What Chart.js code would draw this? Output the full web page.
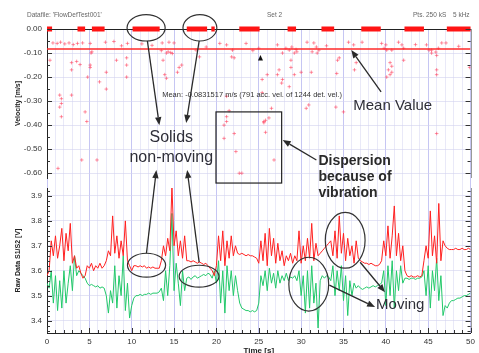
<!DOCTYPE html>
<html><head><meta charset="utf-8">
<script src="https://cdn.jsdelivr.net/npm/chart.js@4.4.1/dist/chart.umd.min.js"></script>
<style>html,body{margin:0;padding:0;background:#fff}#wrap{width:479px;height:353px;position:relative;overflow:hidden}</style>
</head><body><div id="wrap"><canvas id="c" width="479" height="353"></canvas></div>
<script>
// ---------- data ----------
const timeS = [0,0.25,0.5,0.75,1,1.25,1.5,1.75,2,2.25,2.5,2.75,3,3.25,3.5,3.75,4,4.25,4.5,4.75,
5,5.25,5.5,5.75,6,6.25,6.5,6.75,7,7.25,7.5,7.75,8,8.25,8.5,8.75,9,9.25,9.5,9.75,
10,10.25,10.5,10.75,11,11.25,11.5,11.75,12,12.25,12.5,12.75,13,13.25,13.5,13.75,14,14.25,14.5,14.75,
15,15.25,15.5,15.75,16,16.25,16.5,16.75,17,17.25,17.5,17.75,18,18.25,18.5,18.75,19,19.25,19.5,19.75,
20,20.25,20.5,20.75,21,21.25,21.5,21.75,22,22.25,22.5,22.75,23,23.25,23.5,23.75,24,24.25,24.5,24.75,
25,25.25,25.5,25.75,26,26.25,26.5,26.75,27,27.25,27.5,27.75,28,28.25,28.5,28.75,29,29.25,29.5,29.75,
30,30.25,30.5,30.75,31,31.25,31.5,31.75,32,32.25,32.5,32.75,33,33.25,33.5,33.75,34,34.25,34.5,34.75,
35,35.25,35.5,35.75,36,36.25,36.5,36.75,37,37.25,37.5,37.75,38,38.25,38.5,38.75,39,39.25,39.5,39.75,
40,40.25,40.5,40.75,41,41.25,41.5,41.75,42,42.25,42.5,42.75,43,43.25,43.5,43.75,44,44.25,44.5,44.75,
45,45.25,45.5,45.75,46,46.25,46.5,46.75,47,47.25,47.5,47.75,48,48.25,48.5,48.75,49,49.25,49.5,49.75,50];

const rawS1 = [3.58,3.60,3.72,3.66,3.74,3.65,3.70,3.77,3.64,3.75,3.68,3.79,3.63,3.66,3.61,3.62,3.59,3.57,3.58,3.62,
3.61,3.63,3.60,3.62,3.61,3.63,3.61,3.62,3.64,3.68,3.66,3.82,3.67,3.74,3.65,3.72,3.66,3.80,3.64,3.62,
3.60,3.62,3.62,3.615,3.62,3.615,3.62,3.61,3.615,3.61,3.615,3.61,3.61,3.61,3.64,3.70,3.66,3.73,3.68,3.94,
3.70,3.76,3.66,3.72,3.65,3.74,3.64,3.64,3.635,3.64,3.635,3.63,3.635,3.63,3.625,3.63,3.62,3.61,3.60,3.58,
3.62,3.74,3.64,3.76,3.62,3.72,3.65,3.74,3.66,3.70,3.67,3.665,3.67,3.665,3.66,3.665,3.66,3.66,3.655,3.65,
3.63,3.72,3.64,3.75,3.62,3.77,3.66,3.73,3.63,3.71,3.64,3.68,3.62,3.66,3.64,3.67,3.63,3.66,3.64,3.76,
3.63,3.70,3.64,3.73,3.65,3.79,3.64,3.71,3.66,3.67,3.68,3.69,3.70,3.71,3.72,3.66,3.76,3.65,3.82,3.67,
3.75,3.64,3.73,3.66,3.70,3.63,3.72,3.65,3.64,3.635,3.63,3.63,3.625,3.63,3.625,3.62,3.62,3.625,3.64,3.72,
3.66,3.78,3.65,3.74,3.86,3.66,3.75,3.64,3.70,3.60,3.58,3.575,3.58,3.575,3.575,3.58,3.575,3.58,3.64,3.70,
3.65,3.84,3.66,3.74,3.63,3.87,3.64,3.72,3.70,3.69,3.685,3.685,3.685,3.69,3.685,3.685,3.69,3.685,3.685,3.69,3.685];

const rawS2 = [3.55,3.53,3.60,3.47,3.58,3.44,3.56,3.45,3.60,3.47,3.55,3.62,3.52,3.66,3.58,3.60,3.59,3.58,3.57,3.55,
3.54,3.545,3.54,3.535,3.54,3.53,3.535,3.53,3.50,3.43,3.52,3.47,3.62,3.45,3.58,3.50,3.66,3.44,3.55,3.41,
3.46,3.49,3.50,3.50,3.505,3.50,3.505,3.505,3.51,3.505,3.51,3.51,3.51,3.515,3.53,3.48,3.60,3.50,3.62,3.83,
3.52,3.63,3.55,3.46,3.60,3.52,3.57,3.575,3.565,3.575,3.58,3.57,3.575,3.58,3.585,3.58,3.59,3.585,3.57,3.60,
3.55,3.64,3.47,3.60,3.43,3.62,3.52,3.60,3.50,3.58,3.52,3.47,3.45,3.445,3.44,3.44,3.435,3.44,3.435,3.44,
3.47,3.58,3.54,3.60,3.52,3.61,3.55,3.59,3.53,3.60,3.55,3.58,3.56,3.59,3.56,3.575,3.57,3.58,3.56,3.60,
3.50,3.58,3.43,3.60,3.45,3.62,3.47,3.55,3.37,3.56,3.58,3.57,3.58,3.575,3.56,3.62,3.50,3.60,3.52,3.62,
3.48,3.58,3.42,3.56,3.50,3.55,3.53,3.54,3.53,3.525,3.53,3.535,3.53,3.535,3.54,3.535,3.54,3.545,3.55,3.60,
3.46,3.62,3.50,3.64,3.45,3.60,3.52,3.62,3.55,3.57,3.57,3.565,3.57,3.57,3.565,3.57,3.57,3.575,3.60,3.50,
3.62,3.45,3.60,3.52,3.65,3.48,3.58,3.42,3.46,3.45,3.47,3.48,3.48,3.485,3.49,3.49,3.495,3.50,3.50,3.505,3.51];

// accepted velocity samples (time s, velocity m/s)
const velT = [0.7,1.2,1.6,2.1,2.6,3.1,3.6,4.2,5.1,6.9,7.9,9.5,5.3,5.2,0.35,2.9,3.5,3.9,2.9,5.1,5.1,
8.2,9.4,9.4,9.4,7.0,6.2,4.8,7.0,1.5,1.7,1.5,1.7,1.7,2.9,4.5,4.7,1.3,5.9,4.1,
13.6,14.4,15.0,13.5,14.1,14.6,14.8,14.3,13.7,15.9,15.6,15.4,13.9,14.1,17.6,18.0,
20.4,21.2,21.9,21.8,22.1,21.2,21.5,21.2,23.5,25.0,
27.2,27.8,28.2,28.6,28.9,29.4,29.5,29.2,30.7,31.5,31.8,32.1,31.3,31.9,
28.8,28.8,27.4,27.2,30.0,29.2,27.7,27.8,28.6,25.4,26.0,31.2,
34.3,34.5,34.2,35.6,36.2,36.5,36.3,37.2,
39.5,40.0,39.8,40.1,40.7,41.5,41.9,42.1,40.5,40.7,40.3,40.7,40.5,40.1,42.1,
44.8,45.1,45.4,45.9,46.2,46.6,47.1,45.4,46.0,46.0,46.0,49.9,
30.9,30.6,34.1,35.0,26.5,25.4,25.6,25.8,26.2,25.8,26.8,46.0,22.7,
21.2,20.9,25.6,20.9,22.1,22.3,23.0,8.8,11.2,12.4,18.8,24.3,33.0,43.5,48.6];
const velV = [-0.058,-0.06,-0.055,-0.062,-0.058,-0.065,-0.06,-0.058,-0.06,-0.055,-0.052,-0.06,-0.095,-0.1,-0.13,-0.14,-0.135,-0.148,-0.17,-0.15,-0.16,
-0.13,-0.12,-0.15,-0.2,-0.18,-0.22,-0.2,-0.25,-0.275,-0.29,-0.325,-0.365,-0.31,-0.275,-0.345,-0.385,-0.58,-0.545,-0.545,
-0.058,-0.055,-0.058,-0.09,-0.1,-0.098,-0.102,-0.095,-0.13,-0.15,-0.16,-0.18,-0.19,-0.205,-0.088,-0.116,
-0.06,-0.066,-0.088,-0.116,-0.12,-0.28,-0.34,-0.365,-0.06,-0.08,
-0.066,-0.1,-0.08,-0.088,-0.075,-0.085,-0.095,-0.1,-0.055,-0.058,-0.075,-0.088,-0.095,-0.1,
-0.13,-0.16,-0.17,-0.19,-0.18,-0.19,-0.225,-0.21,-0.24,-0.21,-0.19,-0.18,
-0.13,-0.12,-0.185,-0.055,-0.066,-0.14,-0.17,-0.055,
-0.06,-0.066,-0.08,-0.088,-0.088,-0.055,-0.066,-0.08,-0.14,-0.155,-0.17,-0.18,-0.19,-0.2,-0.13,
-0.066,-0.088,-0.088,-0.096,-0.08,-0.058,-0.058,-0.1,-0.11,-0.17,-0.19,-0.16,
-0.316,-0.33,-0.325,-0.345,-0.33,-0.265,-0.39,-0.38,-0.37,-0.43,-0.545,-0.435,-0.6,
-0.385,-0.4,-0.385,-0.455,-0.435,-0.51,-0.6,-0.07,-0.062,-0.068,-0.075,-0.09,-0.07,-0.065,-0.072];

// runs of zero velocity (solids not moving): start / end time [s]
const zeroStart = [0,3.6,5.3,10.1,16.5,19.4,22.7,28.4,32.4,37.1,42.2,47.2];
const zeroEnd   = [0.6,4.5,6.8,13.3,18.9,19.8,25.1,29.4,33.9,39.4,44.5,50];
const meanVelocity = -0.0831517;

// ---------- build datasets ----------
const s1Data = timeS.map((t,i)=>({x:t,y:rawS1[i]}));
const s2Data = timeS.map((t,i)=>({x:t,y:rawS2[i]}));
const velData = velT.map((t,i)=>({x:t,y:velV[i]}));
const zeroData = [];
zeroStart.forEach((s,i)=>{ zeroData.push({x:s,y:0},{x:zeroEnd[i],y:0},{x:zeroEnd[i],y:null}); });
const meanData = [{x:0,y:meanVelocity},{x:50,y:meanVelocity}];

const FAM = "'Liberation Sans', Arial, Helvetica, sans-serif";
Chart.defaults.font.family = FAM;

// ---------- annotations (anchored to data coordinates) ----------
const ellipses = [
  {axis:'yV', t:11.7, v:0.005, rt:2.25, rv:0.055},
  {axis:'yV', t:18.05, v:0.005, rt:2.0, rv:0.055},
  {axis:'yR', t:11.75, v:3.622, rt:2.25, rv:0.048},
  {axis:'yR', t:17.95, v:3.578, rt:2.35, rv:0.044},
  {axis:'yR', t:30.9, v:3.546, rt:2.35, rv:0.108},
  {axis:'yR', t:35.2, v:3.722, rt:2.35, rv:0.112}
];
const arrows = [
  {a1:'yV', t1:11.85, v1:-0.05, a2:'yV', t2:13.26, v2:-0.40},
  {a1:'yV', t1:17.96, v1:-0.05, a2:'yV', t2:16.43, v2:-0.391},
  {a1:'yR', t1:11.74, v1:3.67, a2:'yV', t2:12.91, v2:-0.587},
  {a1:'yR', t1:17.96, v1:3.634, a2:'yV', t2:16.55, v2:-0.587},
  {a1:'yV', t1:39.44, v1:-0.262, a2:'yV', t2:35.92, v2:-0.0874},
  {a1:'yV', t1:31.8, v1:-0.545, a2:'yV', t2:27.82, v2:-0.462},
  {a1:'yR', t1:33.33, v1:3.542, a2:'yR', t2:38.73, v2:3.454},
  {a1:'yR', t1:36.97, v1:3.634, a2:'yR', t2:39.9, v2:3.514}
];
const boxes = [{axis:'yV', t1:19.95, t2:27.7, v1:-0.345, v2:-0.641}];
const labels = [
  {text:'Solids', axis:'yV', t:14.67, v:-0.47, font:'16px '+FAM, align:'center', color:'#2e2e38'},
  {text:'non-moving', axis:'yV', t:14.67, v:-0.5535, font:'16px '+FAM, align:'center', color:'#2e2e38'},
  {text:'Mean Value', axis:'yV', t:36.15, v:-0.337, font:'15px '+FAM, align:'left', color:'#2e2e38'},
  {text:'Mean: -0.0831517 m/s (791 acc. vel. of 1244 det. vel.)', axis:'yV', t:13.6, v:-0.283, font:'7.5px '+FAM, align:'left', color:'#333'},
  {text:'Dispersion', axis:'yV', t:32.04, v:-0.566, font:'bold 14px '+FAM, align:'left', color:'#2a2a2a'},
  {text:'because of', axis:'yV', t:32.04, v:-0.6325, font:'bold 14px '+FAM, align:'left', color:'#2a2a2a'},
  {text:'vibration', axis:'yR', t:32.04, v:3.894, font:'bold 14px '+FAM, align:'left', color:'#2a2a2a'},
  {text:'Moving', axis:'yR', t:38.85, v:3.446, font:'15px '+FAM, align:'left', color:'#2e2e38'}
];
const markerTri = {axis:'yV', t:25.2, v:-0.121};

const overlay = {
  id:'overlay',
  afterDraw(chart){
    const {ctx, chartArea:ca, scales} = chart;
    const X = t => scales.x.getPixelForValue(t);
    const Y = (a,v) => scales[a].getPixelForValue(v);
    ctx.save();
    // inward tick marks and right border
    ctx.strokeStyle = '#333'; ctx.lineWidth = 1;
    ['yV','yR'].forEach(id=>{
      const s = scales[id];
      ctx.beginPath();
      s.ticks.forEach(tk=>{
        const y = Math.round(s.getPixelForValue(tk.value))+0.5;
        const len = tk.label !== '' ? 5 : 3;
        ctx.moveTo(ca.left, y); ctx.lineTo(ca.left+len, y);
        ctx.moveTo(ca.right, y); ctx.lineTo(ca.right-len, y);
      });
      ctx.stroke();
      ctx.save(); ctx.strokeStyle='#999';
      ctx.beginPath(); ctx.moveTo(Math.round(ca.right)+0.5, s.top); ctx.lineTo(Math.round(ca.right)+0.5, s.bottom); ctx.stroke();
      ctx.restore();
    });
    const sx = scales.x;
    ctx.beginPath();
    sx.ticks.forEach(tk=>{
      const x = Math.round(sx.getPixelForValue(tk.value))+0.5;
      const len = tk.label !== '' ? 5 : 3;
      ctx.moveTo(x, ca.bottom); ctx.lineTo(x, ca.bottom-len);
    });
    ctx.stroke();
    // header texts
    ctx.fillStyle = '#666'; ctx.font = '6.5px '+FAM; ctx.textBaseline='middle'; ctx.textAlign='left';
    ctx.fillText("Datafile: 'FlowDefTest001'", 27, 15);
    ctx.fillText('Set 2', 267, 15);
    ctx.fillText('Pts. 250 kS', 413, 15);
    ctx.fillText('5 kHz', 453, 15);
    // ellipses
    ctx.strokeStyle = '#333'; ctx.lineWidth = 1.2;
    ellipses.forEach(e=>{
      const cx = X(e.t), cy = Y(e.axis,e.v);
      const rx = Math.abs(X(e.t+e.rt)-cx), ry = Math.abs(Y(e.axis,e.v+e.rv)-cy);
      ctx.beginPath(); ctx.ellipse(cx,cy,rx,ry,0,0,Math.PI*2); ctx.stroke();
    });
    // box
    boxes.forEach(b=>{
      const x1=X(b.t1), x2=X(b.t2), y1=Y(b.axis,b.v1), y2=Y(b.axis,b.v2);
      ctx.strokeStyle='#222'; ctx.lineWidth=1.2;
      ctx.strokeRect(x1,y1,x2-x1,y2-y1);
    });
    // arrows
    ctx.strokeStyle='#2a2a2a'; ctx.fillStyle='#2a2a2a'; ctx.lineWidth=1.3;
    arrows.forEach(a=>{
      const x1=X(a.t1), y1=Y(a.a1,a.v1), x2=X(a.t2), y2=Y(a.a2,a.v2);
      const ang=Math.atan2(y2-y1,x2-x1), L=8, W=3.2;
      const bx=x2-L*Math.cos(ang), by=y2-L*Math.sin(ang);
      ctx.beginPath(); ctx.moveTo(x1,y1); ctx.lineTo(bx,by); ctx.stroke();
      ctx.beginPath(); ctx.moveTo(x2,y2);
      ctx.lineTo(bx+W*Math.sin(ang), by-W*Math.cos(ang));
      ctx.lineTo(bx-W*Math.sin(ang), by+W*Math.cos(ang));
      ctx.closePath(); ctx.fill();
    });
    // small marker triangle
    { const x=X(markerTri.t), y=Y(markerTri.axis,markerTri.v);
      ctx.fillStyle='#111'; ctx.beginPath(); ctx.moveTo(x,y-3); ctx.lineTo(x+2.5,y+2.5); ctx.lineTo(x-2.5,y+2.5); ctx.closePath(); ctx.fill(); }
    // labels
    ctx.textBaseline='alphabetic';
    labels.forEach(l=>{
      ctx.font=l.font; ctx.fillStyle=l.color; ctx.textAlign=l.align;
      ctx.fillText(l.text, X(l.t), Y(l.axis,l.v));
    });
    ctx.restore();
  }
};

const isMajor = (v, step) => Math.abs(v/step - Math.round(v/step)) < 1e-6;
const yW = s => { s.width = 47; };

new Chart(document.getElementById('c'), {
  type:'scatter',
  data:{ datasets:[
    {label:'zero runs', data:zeroData, yAxisID:'yV', showLine:true, spanGaps:false, borderColor:'#ff1414', borderWidth:5, borderCapStyle:'butt', pointRadius:0, clip:6},
    {label:'mean', data:meanData, yAxisID:'yV', showLine:true, borderColor:'#ff2a2a', borderWidth:1.3, pointRadius:0},
    {label:'velocity', data:velData, yAxisID:'yV', pointStyle:'cross', pointRadius:1.8, borderWidth:1, borderColor:'rgba(255,60,90,0.55)', backgroundColor:'rgba(255,60,90,0.35)'},
    {label:'S1', data:s1Data, yAxisID:'yR', showLine:true, borderColor:'#ff2020', borderWidth:1, pointRadius:0, tension:0},
    {label:'S2', data:s2Data, yAxisID:'yR', showLine:true, borderColor:'#22c86a', borderWidth:1, pointRadius:0, tension:0}
  ]},
  options:{
    responsive:false, animation:false, devicePixelRatio:1,
    layout:{padding:{top:29, right:6, left:0, bottom:0}},
    plugins:{legend:{display:false}, tooltip:{enabled:false}},
    scales:{
      x:{type:'linear', min:0, max:50, position:'bottom',
         ticks:{stepSize:1, autoSkip:false, maxRotation:0, padding:4, color:'#333', font:{size:8},
                callback:v => isMajor(v,5) ? String(v) : ''},
         grid:{drawTicks:false, lineWidth:1, color:c => (c.tick && isMajor(c.tick.value,5)) ? 'rgba(160,160,235,0.6)' : 'rgba(215,215,242,0.55)'},
         border:{display:true, color:'#222', width:1},
         title:{display:true, text:'Time [s]', color:'#222', font:{size:8, weight:'bold', lineHeight:0.6}, padding:0},
         afterFit:s => { s.height = 20; }},
      yR:{type:'linear', position:'left', stack:'panels', stackWeight:145, min:3.35, max:3.932,
         ticks:{stepSize:0.02, autoSkip:false, includeBounds:false, padding:5, color:'#333', font:{size:8},
                callback:v => isMajor(v,0.1) ? v.toFixed(1) : ''},
         grid:{drawTicks:false, color:c => (c.tick && isMajor(c.tick.value,0.1)) ? 'rgba(210,210,238,0.6)' : 'rgba(0,0,0,0)'},
         border:{display:true, color:'#222', width:1},
         title:{display:true, text:'Raw Data S1/S2 [V]', color:'#222', font:{size:7, weight:'bold'}, padding:{top:14, bottom:0}},
         afterFit:yW},
      yGap:{type:'linear', position:'left', stack:'panels', stackWeight:10, min:0, max:1,
         ticks:{display:false}, grid:{display:false}, border:{display:false}, afterFit:yW},
      yV:{type:'linear', position:'left', stack:'panels', stackWeight:149, min:-0.62, max:0,
         ticks:{stepSize:0.05, autoSkip:false, includeBounds:false, padding:5, color:'#333', font:{size:8},
                callback:v => isMajor(v,0.1) ? v.toFixed(2) : ''},
         grid:{drawTicks:false, color:c => (c.tick && Math.abs(c.tick.value) < 1e-9) ? '#222' : ((c.tick && isMajor(c.tick.value,0.1)) ? 'rgba(210,210,238,0.6)' : 'rgba(0,0,0,0)')},
         border:{display:true, color:'#222', width:1},
         title:{display:true, text:'Velocity [m/s]', color:'#222', font:{size:7, weight:'bold'}, padding:{top:14, bottom:0}},
         afterFit:yW}
    }
  },
  plugins:[overlay]
});
</script></body></html>
